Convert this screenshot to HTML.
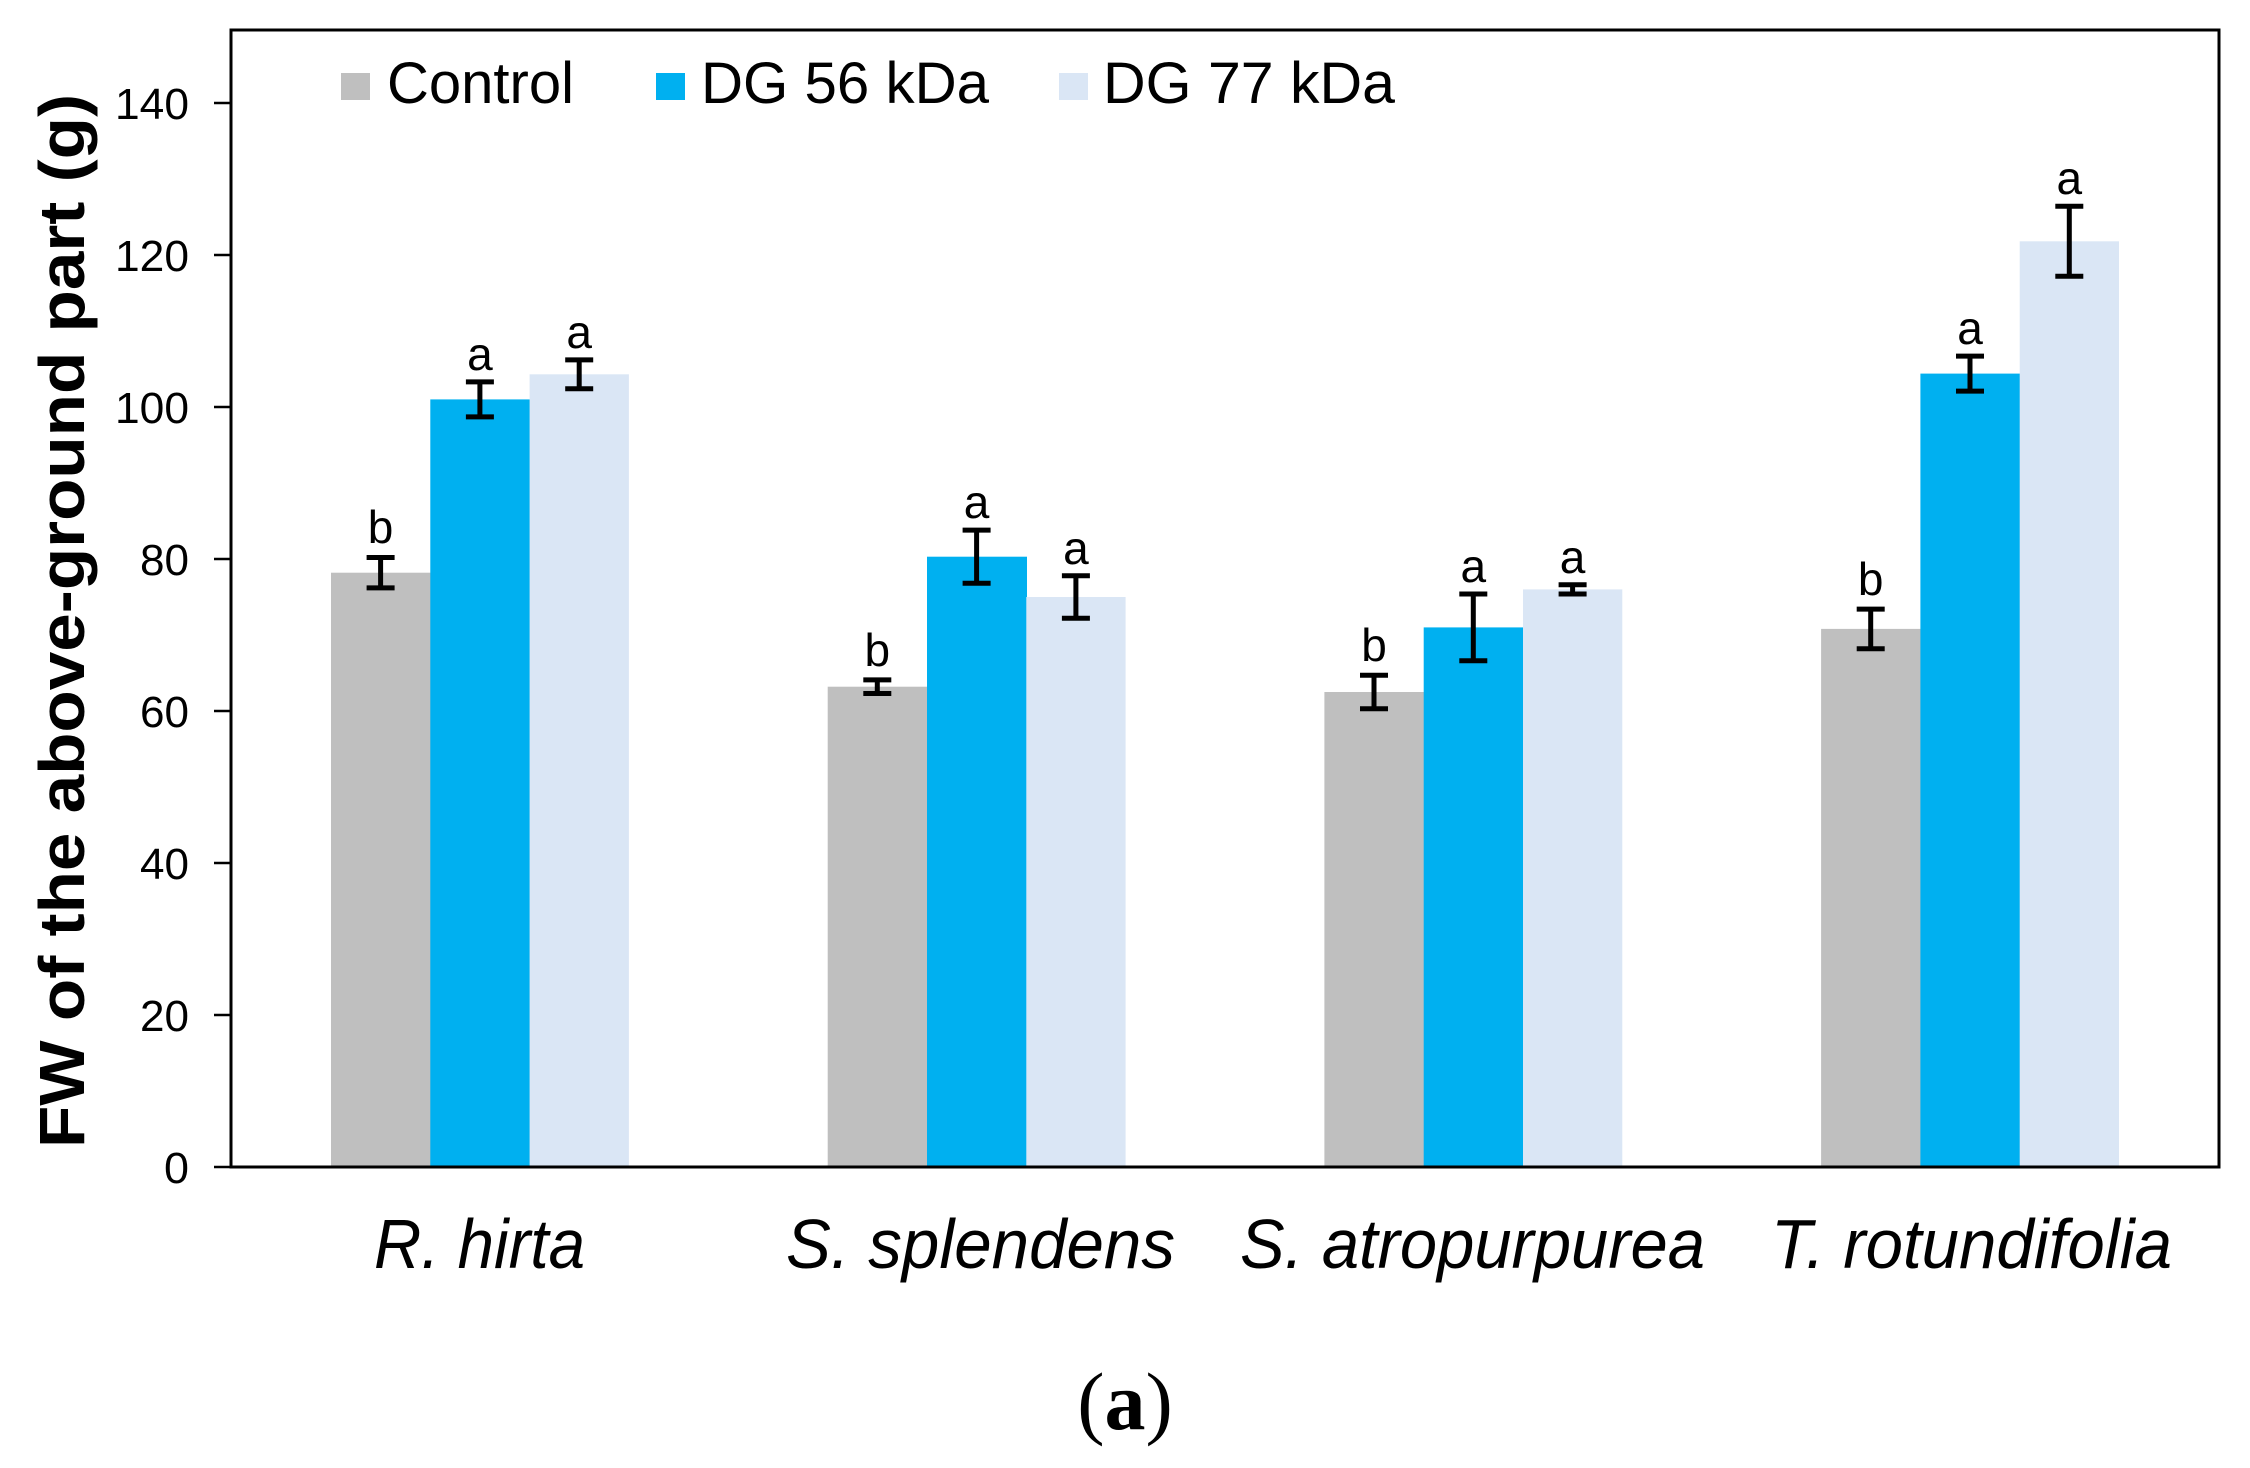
<!DOCTYPE html>
<html><head><meta charset="utf-8"><style>html,body{margin:0;padding:0;background:#fff;}svg{display:block}</style></head>
<body>
<svg width="2250" height="1468" viewBox="0 0 2250 1468" xmlns="http://www.w3.org/2000/svg" font-family="Liberation Sans, Arial, sans-serif">
<rect width="2250" height="1468" fill="#fff"/>
<g fill="#bfbfbf">
<rect x="331" y="572.7" width="100" height="594.3"/>
<rect x="827.7" y="686.7" width="100" height="480.3"/>
<rect x="1324.4" y="692" width="100" height="475"/>
<rect x="1821.1" y="628.9" width="100" height="538.1"/>
</g>
<g fill="#00b0f0">
<rect x="430.3" y="399.4" width="100" height="767.6"/>
<rect x="927" y="556.7" width="100" height="610.3"/>
<rect x="1423.7" y="627.4" width="100" height="539.6"/>
<rect x="1920.4" y="373.6" width="100" height="793.4"/>
</g>
<g fill="#dae6f5">
<rect x="529.6" y="374.3" width="99.3" height="792.7"/>
<rect x="1026.3" y="597" width="99.3" height="570"/>
<rect x="1523" y="589.4" width="99.3" height="577.6"/>
<rect x="2019.7" y="241.3" width="99.3" height="925.7"/>
</g>
<g stroke="#000" stroke-width="5">
<path d="M380.6 557.5V587.9M366.6 557.5H394.6M366.6 587.9H394.6"/>
<path d="M479.9 381.9V416.9M465.9 381.9H493.9M465.9 416.9H493.9"/>
<path d="M579.2 359.9V388.8M565.2 359.9H593.2M565.2 388.8H593.2"/>
<path d="M877.3 679.9V693.5M863.3 679.9H891.3M863.3 693.5H891.3"/>
<path d="M976.6 530.1V583.3M962.6 530.1H990.6M962.6 583.3H990.6"/>
<path d="M1075.9 575.7V618.3M1061.9 575.7H1089.9M1061.9 618.3H1089.9"/>
<path d="M1374 675.3V708.7M1360 675.3H1388M1360 708.7H1388"/>
<path d="M1473.3 594V660.8M1459.3 594H1487.3M1459.3 660.8H1487.3"/>
<path d="M1572.6 584.8V594M1558.6 584.8H1586.6M1558.6 594H1586.6"/>
<path d="M1870.7 609.1V648.7M1856.7 609.1H1884.7M1856.7 648.7H1884.7"/>
<path d="M1970 356.1V391.1M1956 356.1H1984M1956 391.1H1984"/>
<path d="M2069.3 206.3V276.3M2055.3 206.3H2083.3M2055.3 276.3H2083.3"/>
</g>
<g font-size="46" text-anchor="middle">
<text x="380.6" y="543">b</text>
<text x="479.9" y="370">a</text>
<text x="579.2" y="348">a</text>
<text x="877.3" y="666">b</text>
<text x="976.6" y="518">a</text>
<text x="1075.9" y="564">a</text>
<text x="1374" y="661">b</text>
<text x="1473.3" y="582">a</text>
<text x="1572.6" y="573">a</text>
<text x="1870.7" y="595">b</text>
<text x="1970" y="344">a</text>
<text x="2069.3" y="194">a</text>
</g>
<rect x="231" y="30" width="1988" height="1137" fill="none" stroke="#000" stroke-width="3"/>
<g stroke="#000" stroke-width="2.5">
<line x1="214" y1="1167" x2="231" y2="1167"/>
<line x1="214" y1="1015" x2="231" y2="1015"/>
<line x1="214" y1="863" x2="231" y2="863"/>
<line x1="214" y1="711" x2="231" y2="711"/>
<line x1="214" y1="559" x2="231" y2="559"/>
<line x1="214" y1="407" x2="231" y2="407"/>
<line x1="214" y1="255" x2="231" y2="255"/>
<line x1="214" y1="103" x2="231" y2="103"/>
</g>
<g font-size="44" text-anchor="end" fill="#000">
<text x="189" y="1183" textLength="25" lengthAdjust="spacingAndGlyphs">0</text>
<text x="189" y="1031" textLength="49" lengthAdjust="spacingAndGlyphs">20</text>
<text x="189" y="879" textLength="49" lengthAdjust="spacingAndGlyphs">40</text>
<text x="189" y="727" textLength="49" lengthAdjust="spacingAndGlyphs">60</text>
<text x="189" y="575" textLength="49" lengthAdjust="spacingAndGlyphs">80</text>
<text x="189" y="423" textLength="74" lengthAdjust="spacingAndGlyphs">100</text>
<text x="189" y="271" textLength="74" lengthAdjust="spacingAndGlyphs">120</text>
<text x="189" y="119" textLength="74" lengthAdjust="spacingAndGlyphs">140</text>
</g>
<text transform="translate(84,1148) rotate(-90)" font-size="64" font-weight="bold" textLength="1054" lengthAdjust="spacingAndGlyphs">FW of the above-ground part  (g)</text>
<rect x="341" y="73" width="29" height="27" fill="#bfbfbf"/>
<text x="387" y="103" font-size="58" textLength="187" lengthAdjust="spacingAndGlyphs">Control</text>
<rect x="656" y="73" width="29" height="27" fill="#00b0f0"/>
<text x="701" y="103" font-size="58" textLength="288" lengthAdjust="spacingAndGlyphs">DG 56 kDa</text>
<rect x="1059" y="73" width="29" height="27" fill="#dae6f5"/>
<text x="1103" y="103" font-size="58" textLength="292" lengthAdjust="spacingAndGlyphs">DG 77 kDa</text>
<g font-size="70" font-style="italic">
<text x="374" y="1268" textLength="211" lengthAdjust="spacingAndGlyphs">R. hirta</text>
<text x="786" y="1268" textLength="389" lengthAdjust="spacingAndGlyphs">S. splendens</text>
<text x="1240" y="1268" textLength="465" lengthAdjust="spacingAndGlyphs">S. atropurpurea</text>
<text x="1771" y="1268" textLength="401" lengthAdjust="spacingAndGlyphs">T. rotundifolia</text>
</g>
<text x="1125" y="1429" font-family="Liberation Serif, serif" font-size="82" text-anchor="middle">(<tspan font-weight="bold">a</tspan>)</text>
</svg>
</body></html>
